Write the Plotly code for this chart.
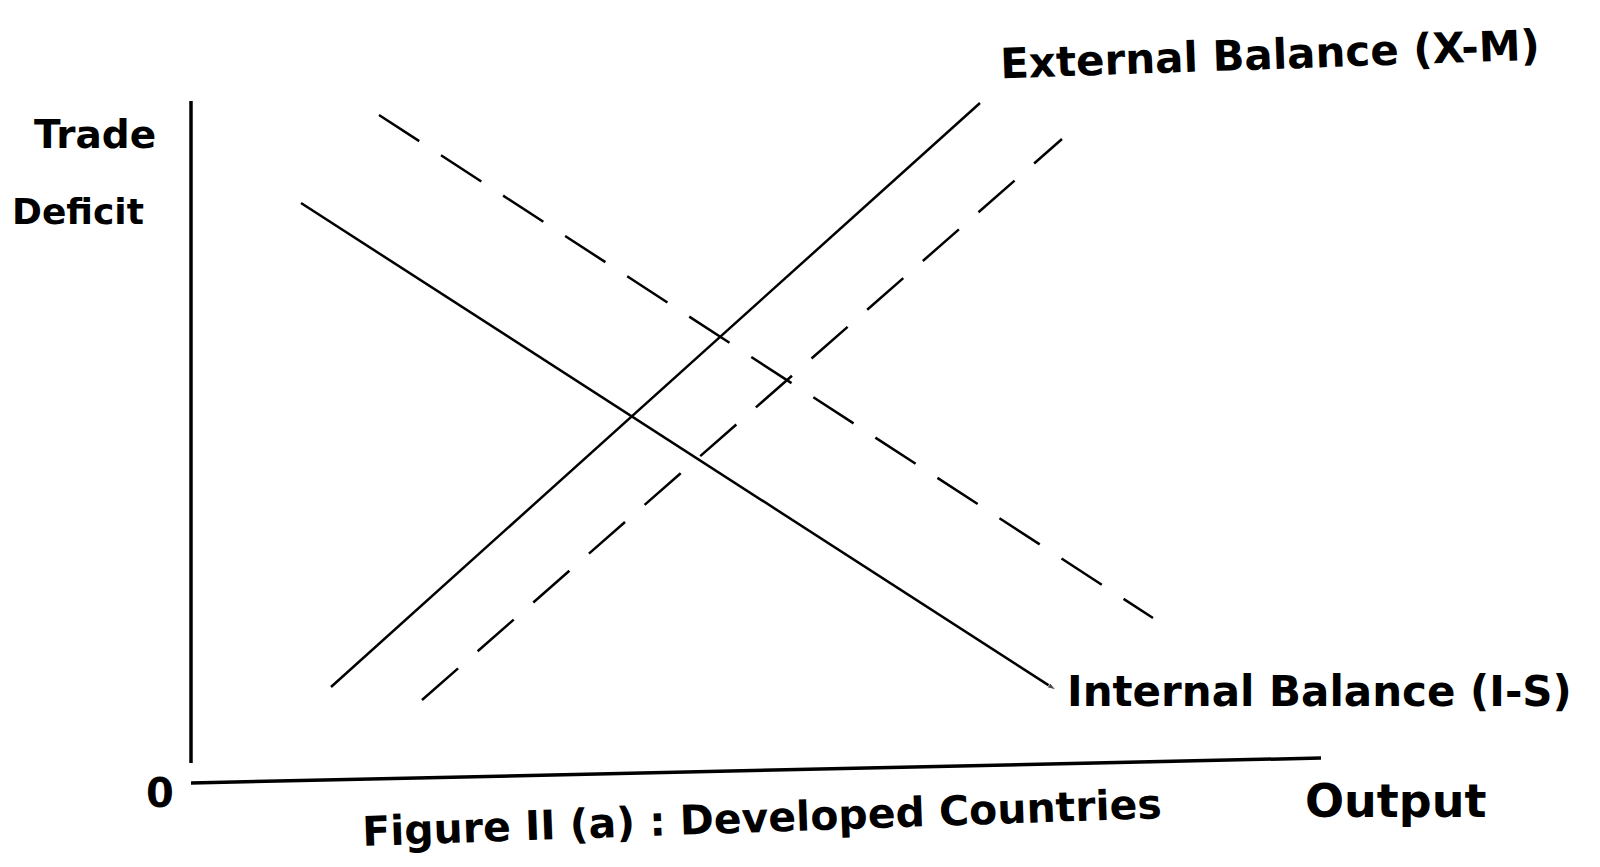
import plotly.graph_objects as go

# chart units: origin at the axis corner, one unit per screen pixel
internal_x = [110, 865]
internal_y = [580, 93]
internal_shift_x = [188, 962]
internal_shift_y = [668, 165]
external_x = [140, 789]
external_y = [96, 680]
external_shift_x = [231, 871]
external_shift_y = [83, 644]

y_axis_x = [0, 0]
y_axis_y = [20, 682]
x_axis_x = [0, 1130]
x_axis_y = [0, 25]

ink = "#000000"
hand = "DejaVu Sans, sans-serif"

fig = go.Figure()

# axes drawn by hand
fig.add_trace(go.Scatter(x=y_axis_x, y=y_axis_y, mode="lines",
                         line=dict(color=ink, width=3.5)))
fig.add_trace(go.Scatter(x=x_axis_x, y=x_axis_y, mode="lines",
                         line=dict(color=ink, width=3.5)))

# balance curves
fig.add_trace(go.Scatter(x=internal_x, y=internal_y, mode="lines+markers",
                         line=dict(color=ink, width=2.5),
                         marker=dict(symbol="arrow", angleref="previous", color=ink,
                                     size=[0, 9]),
                         name="Internal Balance (I-S)"))
fig.add_trace(go.Scatter(x=internal_shift_x, y=internal_shift_y, mode="lines",
                         line=dict(color=ink, width=2.5, dash="48px,26px")))
fig.add_trace(go.Scatter(x=external_x, y=external_y, mode="lines",
                         line=dict(color=ink, width=2.5), name="External Balance (X-M)"))
fig.add_trace(go.Scatter(x=external_shift_x, y=external_shift_y, mode="lines",
                         line=dict(color=ink, width=2.5, dash="48px,26px")))

labels = [
    ("Trade", -96, 649, 39, 0),
    ("Deficit", -113, 572, 36, 0),
    ("0", -31, -10, 40, 0),
    ("External Balance (X-M)", 1079, 729, 42, -2),
    ("Internal Balance (I-S)", 1128, 92, 42, 0),
    ("Figure II (a) : Developed Countries", 571, -35, 41, -2),
    ("Output", 1205, -18, 46, 0),
]
for text, x, y, size, angle in labels:
    fig.add_annotation(x=x, y=y, text="<b>" + text + "</b>", showarrow=False,
                       xanchor="center", yanchor="middle", textangle=angle,
                       font=dict(family=hand, size=size, color=ink))

fig.update_xaxes(range=[-183, 1417], visible=False)
fig.update_yaxes(range=[-92, 775], visible=False)

fig.update_layout(
    width=1600,
    height=867,
    margin=dict(l=0, r=0, t=0, b=0),
    showlegend=False,
    plot_bgcolor="white",
    paper_bgcolor="white",
)

fig.write_html("out.html")
